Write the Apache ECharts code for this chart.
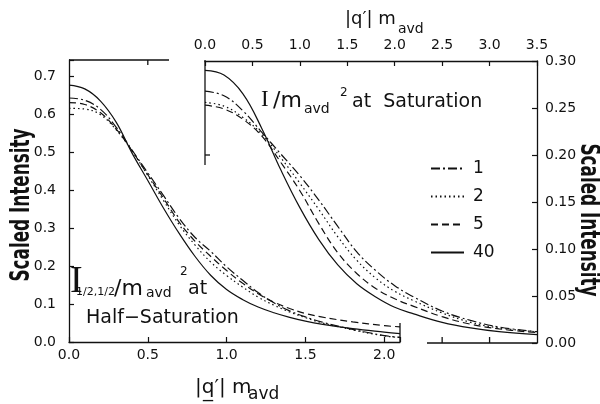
<!DOCTYPE html>
<html>
<head>
<meta charset="utf-8">
<script src="https://cdn.jsdelivr.net/npm/echarts@6/dist/echarts.min.js"></script>
<style>
html,body{margin:0;padding:0;background:#fff;}
#chart{width:600px;height:404px;}
</style>
</head>
<body>
<div id="chart"></div>
<script>
// ---- Data ----
// Half-saturation panel (bottom x axis, left y axis)
var leftX   = [0,0.1,0.2,0.3,0.4,0.5,0.6,0.7,0.8,0.9,1.0,1.1,1.2,1.3,1.4,1.5,1.6,1.8,2.0,2.1];
var left1   = [0.642,0.636,0.612,0.565,0.505,0.445,0.385,0.325,0.275,0.238,0.198,0.163,0.130,0.103,0.082,0.066,0.053,0.033,0.017,0.012];
var left2   = [0.615,0.613,0.598,0.558,0.503,0.438,0.372,0.308,0.255,0.210,0.175,0.145,0.118,0.097,0.079,0.064,0.051,0.032,0.016,0.012];
var left5   = [0.630,0.625,0.603,0.560,0.503,0.440,0.378,0.315,0.265,0.225,0.188,0.155,0.127,0.105,0.088,0.075,0.066,0.053,0.043,0.040];
var left40  = [0.676,0.666,0.634,0.578,0.497,0.425,0.352,0.285,0.225,0.175,0.138,0.112,0.092,0.077,0.065,0.055,0.047,0.035,0.026,0.022];
// Saturation panel (top x axis, right y axis)
var rightX  = [0,0.2,0.4,0.6,0.8,1.0,1.2,1.4,1.6,1.8,2.0,2.2,2.5,2.8,3.1,3.5];
var right1  = [0.268,0.263,0.247,0.224,0.201,0.178,0.152,0.124,0.097,0.077,0.061,0.049,0.034,0.024,0.017,0.012];
var right2  = [0.256,0.252,0.240,0.222,0.197,0.170,0.142,0.113,0.088,0.069,0.055,0.045,0.032,0.022,0.016,0.012];
var right5  = [0.253,0.249,0.238,0.220,0.192,0.162,0.127,0.096,0.074,0.058,0.047,0.039,0.028,0.020,0.015,0.011];
var right40 = [0.290,0.285,0.265,0.228,0.184,0.144,0.110,0.083,0.063,0.049,0.038,0.031,0.022,0.016,0.012,0.009];
var seriesNames = ['1','2','5','40'];
var leftTicks  = [0,0.1,0.2,0.3,0.4,0.5,0.6,0.7];
var rightTicks = [0,0.05,0.10,0.15,0.20,0.25,0.30];

// ---- Styles ----
var INK = '#111';
var FONT = '"DejaVu Sans", "Noto Sans", sans-serif';
var NARROW = '"DejaVu Sans Condensed","DejaVu Sans",sans-serif';
var lineTypes = {'1':[9,3,2,3], '2':[1.5,3], '5':[7,4], '40':'solid'};

function pairs(xs, ys){ return xs.map(function(x,i){ return [x, ys[i]]; }); }
function isMult(v, step){ var r = v/step; return Math.abs(r - Math.round(r)) < 1e-6; }

var leftSets  = {'1':left1,'2':left2,'5':left5,'40':left40};
var rightSets = {'1':right1,'2':right2,'5':right5,'40':right40};

var series = [];
seriesNames.forEach(function(n){
  series.push({name:n, type:'line', xAxisIndex:0, yAxisIndex:0, data:pairs(leftX,leftSets[n]),
    symbol:'none', smooth:0.4,
    lineStyle:{color:INK, width:1.2, type:lineTypes[n]}, itemStyle:{color:INK}});
});
seriesNames.forEach(function(n){
  series.push({name:n, type:'line', xAxisIndex:1, yAxisIndex:1, data:pairs(rightX,rightSets[n]),
    symbol:'none', smooth:0.4,
    lineStyle:{color:INK, width:1.2, type:lineTypes[n]}, itemStyle:{color:INK}});
});

var axisCommon = {
  type:'value',
  axisLine:{show:true, onZero:false, lineStyle:{color:INK, width:1.3}},
  axisTick:{show:true, inside:true, length:5, lineStyle:{color:INK, width:1.2}},
  splitLine:{show:false},
  axisLabel:{color:INK, fontSize:14, fontFamily:FONT}
};
function ax(extra){ var o = JSON.parse(JSON.stringify(axisCommon)); for (var k in extra){ if (typeof extra[k]==='object' && o[k] && !Array.isArray(extra[k])) { for (var j in extra[k]) o[k][j]=extra[k][j]; } else o[k]=extra[k]; } return o; }

var chart = echarts.init(document.getElementById('chart'), null, {renderer:'canvas'});

function txt(x, y, s, size, opts){
  opts = opts || {};
  return {type:'text', x:x, y:y, rotation:opts.rot||0, scaleX:opts.sx||1, scaleY:opts.sy||1, silent:true, z:10,
    style:{text:s, fill:INK, font:(opts.weight||'normal')+' '+size+'px '+(opts.family||FONT),
      textAlign:opts.align||'left', textVerticalAlign:'middle'}};
}
function seg(x1,y1,x2,y2){
  return {type:'line', silent:true, shape:{x1:x1,y1:y1,x2:x2,y2:y2}, style:{stroke:INK, lineWidth:1.3}};
}

var option = {
  animation:false,
  backgroundColor:'#fff',
  grid:[
    {left:69, top:60, width:331, height:282},
    {left:205, top:61, width:332, height:282}
  ],
  xAxis:[
    ax({gridIndex:0, min:0, max:2.1, interval:0.5, position:'bottom',
      axisLabel:{margin:6, formatter:function(v){ return isMult(v,0.5) ? v.toFixed(1) : ''; }}}),
    ax({gridIndex:1, min:0, max:3.5, interval:0.5, position:'top',
      axisLabel:{margin:9, formatter:function(v){ return isMult(v,0.5) ? v.toFixed(1) : ''; }}})
  ],
  yAxis:[
    ax({gridIndex:0, min:leftTicks[0], max:0.742, interval:0.1, position:'left',
      axisLabel:{margin:13, formatter:function(v){ return isMult(v,0.1) ? v.toFixed(1) : ''; }}}),
    ax({gridIndex:1, min:rightTicks[0], max:rightTicks[rightTicks.length-1], interval:0.05, position:'right',
      axisLabel:{margin:8, formatter:function(v){ return v.toFixed(2); }}})
  ],
  legend:{
    data:seriesNames, orient:'vertical', left:425, top:155, itemWidth:33, itemHeight:14, itemGap:11,
    selectedMode:false,
    itemStyle:{opacity:0},
    textStyle:{color:INK, fontSize:17, fontFamily:FONT, padding:[0,0,0,4]}
  },
  series:series
};
chart.setOption(option);

// frame fragments and labels positioned from the axes
var pxL = function(x,y){ return chart.convertToPixel({xAxisIndex:0, yAxisIndex:0}, [x,y]); };
var pxR = function(x,y){ return chart.convertToPixel({xAxisIndex:1, yAxisIndex:1}, [x,y]); };
var tl = pxL(0, 0.742), tickL = pxL(0.5, 0.742), br = pxL(2.1, 0);
var r0 = pxR(0, 0.30), r20 = pxR(0, 0.20), rb = pxR(3.5, 0), r25 = pxR(2.5,0), r30 = pxR(3.0,0);
var graphics = [
  seg(tl[0], tl[1], 169, tl[1]),
  seg(tickL[0], tl[1], tickL[0], tl[1]+5),
  seg(br[0], br[1], br[0], br[1]-19),
  seg(r0[0], r0[1]-1, r0[0], 165),
  seg(r0[0], r20[1], r0[0]+5, r20[1]),
  seg(427, rb[1], rb[0], rb[1]),
  seg(r25[0], rb[1], r25[0], rb[1]-6),
  seg(r30[0], rb[1], r30[0], rb[1]-6),
  // axis names
  txt(22, 205, 'Scaled Intensity', 26, {rot:Math.PI/2, align:'center', weight:'bold', family:NARROW, sx:0.72}),
  txt(588, 220, 'Scaled Intensity', 26, {rot:-Math.PI/2, align:'center', weight:'bold', family:NARROW, sx:0.72}),
  txt(345, 19, '|q\u2032| m', 18),
  txt(398, 29, 'avd', 14),
  txt(195, 388, '|q\u0332\u2032| m', 20),
  txt(248, 395, 'avd', 17),
  // saturation annotation
  txt(261, 100, 'I', 23, {family:'"Liberation Serif","DejaVu Serif",serif'}),
  txt(273, 101, '/m', 22),
  txt(304, 109, 'avd', 14),
  txt(340, 93, '2', 12),
  txt(352, 102, 'at  Saturation', 19),
  // half-saturation annotation
  txt(70, 282, 'I', 38, {family:'"Liberation Serif","DejaVu Serif",serif'}),
  txt(76, 292, '1/2,1/2', 11),
  txt(114, 289, '/m', 22),
  txt(146, 293, 'avd', 14),
  txt(180, 272, '2', 12),
  txt(188, 289, 'at', 19),
  txt(86, 318, 'Half\u2212Saturation', 19)
];
chart.setOption({graphic:graphics});
</script>
</body>
</html>
